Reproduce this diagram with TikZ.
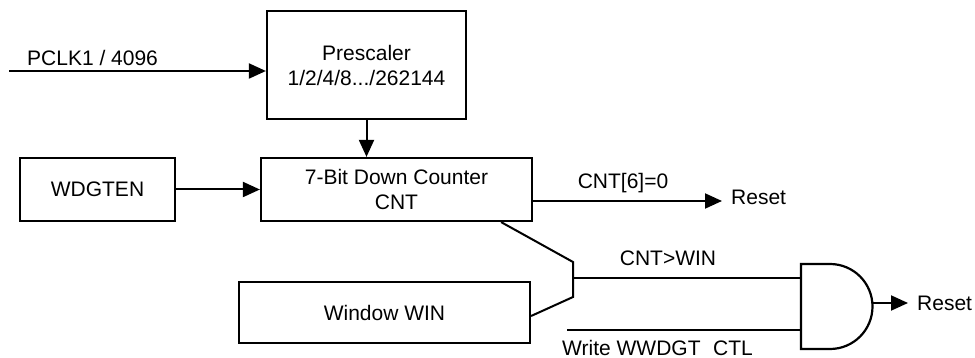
\documentclass[tikz,border=0pt]{standalone}
\usepackage{fontspec}
\setmainfont{Liberation Sans}
\usetikzlibrary{arrows.meta,calc}
\begin{document}
\begin{tikzpicture}[x=1pt,y=-1pt,
  txt/.style={font=\fontsize{21}{25}\selectfont, inner sep=0pt},
  blk/.style={draw, line width=2.2pt, inner sep=0pt, align=center, font=\fontsize{21}{25}\selectfont},
  wire/.style={line width=2pt},
  arr/.style={wire, -{Triangle[length=17pt,width=15pt]}}]
\useasboundingbox (0,0) rectangle (975,358);
% blocks
\node[blk, minimum width=199pt, minimum height=108pt] (pre) at (366.5,65) {Prescaler\\1/2/4/8.../262144};
\node[blk, minimum width=155pt, minimum height=63pt] (wdg) at (97.5,189.5) {WDGTEN};
\node[blk, minimum width=271pt, minimum height=63pt] (cnt) at (396.5,189.5) {7-Bit Down Counter\\CNT};
\node[blk, minimum width=291pt, minimum height=61pt] (win) at (384.5,312.5) {Window WIN};
% AND gate
\coordinate (gtl) at (801,264);
\draw[line width=2.2pt] (gtl) -- (830,264) arc[start angle=-90, end angle=90, radius=42.5] -- (801,349) -- cycle;
\coordinate (g1) at (801,278);
\coordinate (g2) at (801,330);
\coordinate (gout) at (872.5,303);
% coordinates
\coordinate (pin) at (9,71);
\coordinate (r1) at (722,201);
\coordinate (r2) at (908,303);
\coordinate (cmpa) at (573,262);
\coordinate (cmpb) at (573,297);
\coordinate (cmpo) at (573,278);
\coordinate (wrin) at (567,330);
% connectors
\draw[arr] (pin) -- (pin -| pre.west);
\draw[arr] (pre.south) -- (pre.south |- cnt.north);
\draw[arr] (wdg.east) -- (cnt.west);
\draw[arr] ([yshift=-11.5pt]cnt.east) -- (r1);
\draw[wire] ($(cnt.south east)+(-32,0)$) -- (cmpa) -- (cmpb) -- ([yshift=-3.5pt]win.east);
\draw[wire] (cmpo) -- (g1);
\draw[wire] (wrin) -- (g2);
\draw[arr] (gout) -- (r2);
% labels
\node[txt, anchor=west] (lpclk) at (27,58) {PCLK1 / 4096};
\node[txt] (lcnt6) at (623,183) {CNT[6]=0};
\node[txt, anchor=west] (rst1) at (731,197) {Reset};
\node[txt] (lcmp) at (668,258) {CNT>WIN};
\node[txt, anchor=west] (rst2) at (917,303) {Reset};
\node[txt, anchor=west] (lwr) at (562,348) {Write WWDGT\hspace{0.6em}CTL};
\end{tikzpicture}
\end{document}
